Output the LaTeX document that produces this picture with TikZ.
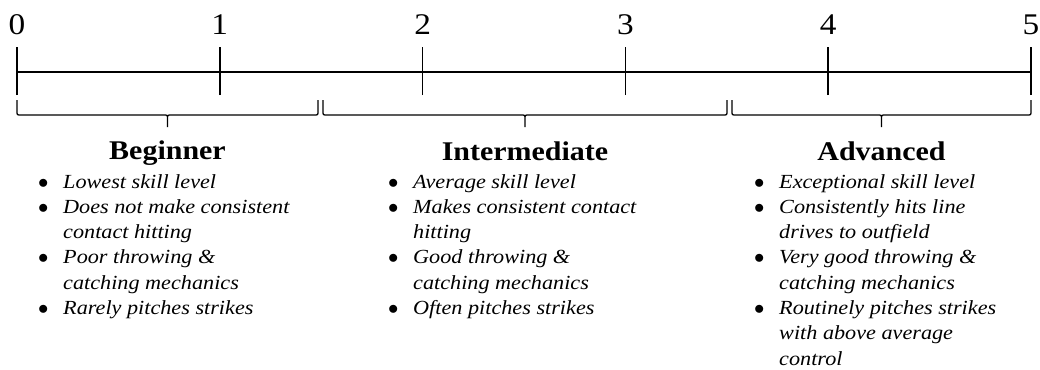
\documentclass[tikz,border=0pt]{standalone}
\usepackage{fontspec}
\setmainfont{Liberation Serif}[FakeStretch=1.11]
\usepackage{array}

\tikzset{
  axisline/.style={line width=1.5pt},
  bracket/.style={line width=1.3pt, line join=round},
  ticklbl/.style={font=\fontsize{30}{34}\selectfont, anchor=base},
  levelname/.style={font=\fontsize{27}{30}\selectfont\bfseries, anchor=base},
  levellist/.style={font=\fontsize{20}{25.3}\selectfont\itshape, anchor=base west, inner sep=0pt},
}

% brace under a range of the scale: name, left, middle, right
\newcommand{\skillbrace}[4]{%
  \draw[bracket] (#2,100) -- (#2,111) .. controls (#2,115) .. (#2+4,115) -- (#3-4,115)
    .. controls (#3,115) .. (#3,119) -- (#3,127) coordinate (#1)
    (#3,119) .. controls (#3,115) .. (#3+4,115) -- (#4-4,115)
    .. controls (#4,115) .. (#4,111) -- (#4,100);
}
\newcommand{\itm}{$\bullet$}

\begin{document}
\begin{tikzpicture}[x=1pt,y=-1pt]
    \useasboundingbox (0,0) rectangle (1040,369);

    % scale
    \foreach \i in {0,...,5} {
        \coordinate (t\i) at (17+202.8*\i,72);
        \draw[axisline] ([yshift=-23pt]t\i) -- ([yshift=25pt]t\i);
        \node[ticklbl] (n\i) at (17+202.8*\i,35) {\i};
    }
    \draw[axisline] (t0) -- (t5);

    % braces
    \skillbrace{bb}{17}{167.5}{318}
    \skillbrace{ib}{323}{525}{727}
    \skillbrace{ab}{732}{881.5}{1031}

    % levels
    \node[levelname] (beg) at (167.5,159) {Beginner};
    \node[levelname] (int) at (525,160) {Intermediate};
    \node[levelname] (adv) at (881.5,160) {Advanced};

    \node[levellist] (begl) at (38,188) {\begin{tabular}[t]{@{}p{25pt}@{}l@{}}
        \itm & Lowest skill level\\
        \itm & Does not make consistent\\
             & contact hitting\\
        \itm & Poor throwing \&\\
             & catching mechanics\\
        \itm & Rarely pitches strikes
    \end{tabular}};
    \node[levellist] (intl) at (388,188) {\begin{tabular}[t]{@{}p{25pt}@{}l@{}}
        \itm & Average skill level\\
        \itm & Makes consistent contact\\
             & hitting\\
        \itm & Good throwing \&\\
             & catching mechanics\\
        \itm & Often pitches strikes
    \end{tabular}};
    \node[levellist] (advl) at (754,188) {\begin{tabular}[t]{@{}p{25pt}@{}l@{}}
        \itm & Exceptional skill level\\
        \itm & Consistently hits line\\
             & drives to outfield\\
        \itm & Very good throwing \&\\
             & catching mechanics\\
        \itm & Routinely pitches strikes\\
             & with above average\\
             & control
    \end{tabular}};
\end{tikzpicture}
\end{document}
